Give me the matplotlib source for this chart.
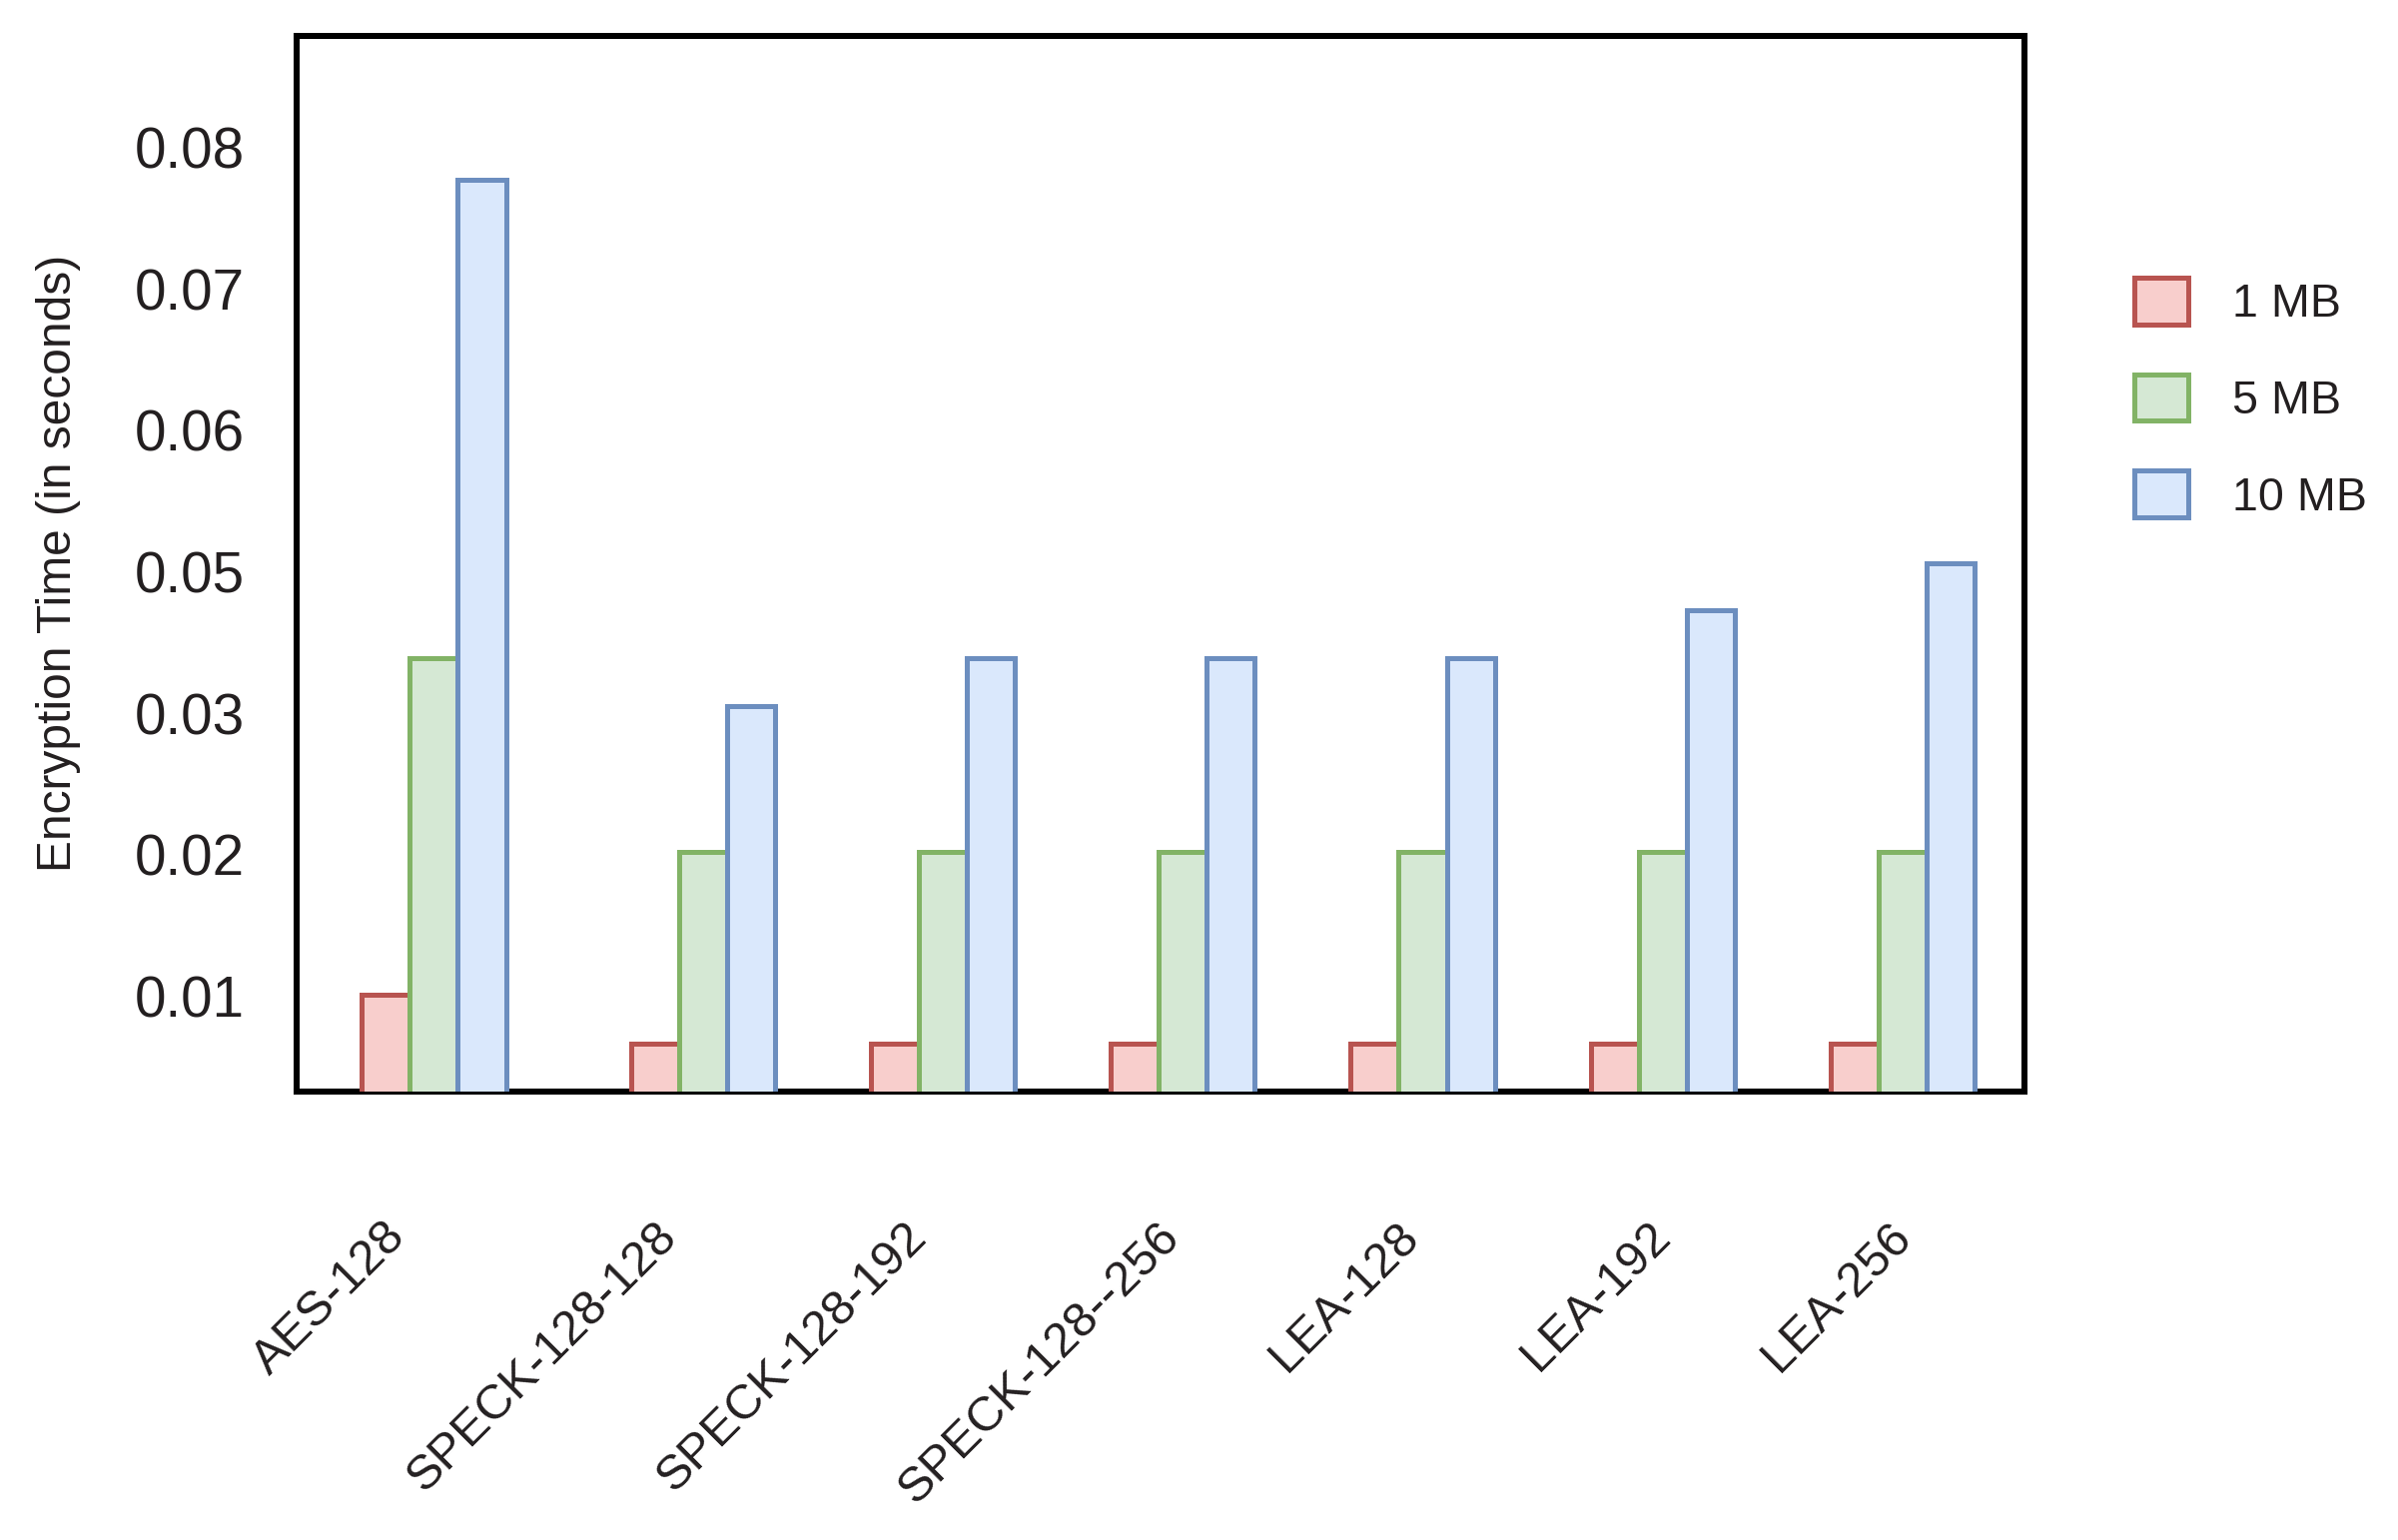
import matplotlib
matplotlib.use('Agg')
import matplotlib.pyplot as plt
import numpy as np

plt.rcParams['font.family'] = ['Liberation Sans', 'DejaVu Sans']

ciphers = ['AES-128', 'SPECK-128-128', 'SPECK-128-192', 'SPECK-128--256',
           'LEA-128', 'LEA-192', 'LEA-256']
sizes = ['1 MB', '5 MB', '10 MB']

# bar heights (ticks are evenly spaced)
t_1mb = [0.0101, 0.0066, 0.0066, 0.0066, 0.0066, 0.0066, 0.0066]
t_5mb = [0.0339, 0.0202, 0.0202, 0.0202, 0.0202, 0.0202, 0.0202]
t_10mb = [0.0677, 0.0305, 0.0339, 0.0339, 0.0339, 0.0373, 0.0406]

tick_vals = [0.01, 0.02, 0.03, 0.04, 0.05, 0.06, 0.07]
tick_text = ['0.01', '0.02', '0.03', '0.05', '0.06', '0.07', '0.08']

# group centres and label anchors (the first group sits a bit apart)
x = np.array([0, 1.12, 2.12, 3.12, 4.12, 5.12, 6.12])
label_x = [-0.08, 1.05, 2.09, 3.145, 4.14, 5.19, 6.19]

edges = ['#b85450', '#82b366', '#6c8ebf']
fills = ['#f8cecc', '#d5e8d4', '#dae8fc']
ink = '#231f20'


def main():
    fig = plt.figure(figsize=(2401 / 300, 1542 / 300), dpi=300)
    ax = fig.add_axes([0.1237, 0.2914, 0.8442 - 0.1237, 0.9767 - 0.2914])

    w = 0.2
    for i, vals in enumerate([t_1mb, t_5mb, t_10mb]):
        ax.bar(x + (i - 1) * w, vals, width=w, color=fills[i],
               edgecolor=edges[i], linewidth=1.2, label=sizes[i], zorder=3)

    ax.set_xlim(-0.572, 6.627)
    ax.set_ylim(0.00326, 0.0779)
    ax.set_yticks(tick_vals)
    ax.set_yticklabels(tick_text, fontsize=13.6, color=ink)
    ax.set_xticks(label_x)
    ax.set_xticklabels(ciphers, rotation=45, ha='right', fontsize=11.7,
                       color=ink)
    ax.tick_params(axis='y', length=0, pad=12.5)
    ax.tick_params(axis='x', length=0, pad=29.5)

    for s in ax.spines.values():
        s.set_linewidth(1.45)
        s.set_color('black')
        s.set_zorder(2)

    ax.set_ylabel('Encryption Time (in seconds)', fontsize=11.5, color=ink)
    ax.yaxis.set_label_coords(-0.125, 0.5)

    leg = ax.legend(loc='upper left',
                    bbox_to_anchor=(2137 / 2401, 1 - 278 / 1542),
                    bbox_transform=fig.transFigure, frameon=False,
                    fontsize=11.2, handlelength=1.16, handleheight=1.16,
                    labelspacing=1.02, handletextpad=0.95, borderpad=0,
                    borderaxespad=0)
    for t in leg.get_texts():
        t.set_color(ink)

    fig.savefig('out.png', dpi=300)


if __name__ == '__main__':
    main()
